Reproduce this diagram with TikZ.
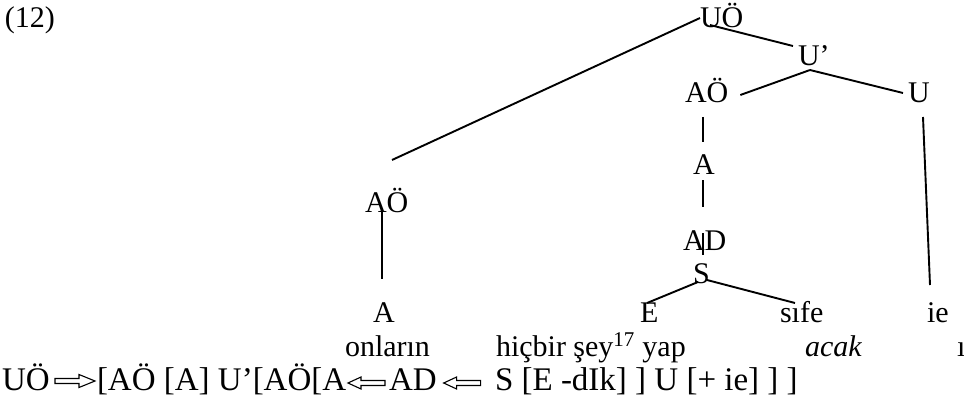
\documentclass[tikz,border=0pt]{standalone}
\usepackage{fontspec}
\setmainfont{Liberation Serif}
\usetikzlibrary{calc}
\begin{document}
\begin{tikzpicture}[x=1pt,y=-1pt,
  lbl/.style={inner sep=0pt, outer sep=0pt, font=\fontsize{30}{36}\selectfont, anchor=base west},
  blbl/.style={lbl, font=\fontsize{33}{40}\selectfont},
  edge/.style={line width=1.9pt},
  rarr/.pic={\draw[line width=1.1pt] (0,-2.5) -- (24,-2.5) -- (24,-6.5) -- (40,0) -- (24,6.5) -- (24,2.5) -- (0,2.5) -- cycle;},
  larr/.pic={\draw[line width=1.1pt] (0,0) -- (13,-6) -- (13,-2.5) -- (37,-2.5) -- (37,2.5) -- (13,2.5) -- (13,6) -- cycle;}]
\useasboundingbox (0,0) rectangle (964,409);
% tree labels
\node[lbl] (ex) at (5,28) {(12)};
\node[lbl] (UO) at (700,28) {UÖ};
\node[lbl] (Up) at (798,66) {U’};
\node[lbl] (AOr) at (685,103) {AÖ};
\node[lbl] (U) at (908,103) {U};
\node[lbl] (Am) at (693,175) {A};
\node[lbl] (AD) at (683,250) {AD};
\node[lbl] (S) at (693,283) {S};
\node[lbl] (AOl) at (365,212) {AÖ};
\node[lbl] (Al) at (373,322) {A};
\node[lbl] (E) at (640,322) {E};
\node[lbl] (sife) at (780,322) {sıfe};
\node[lbl] (ie) at (927,322) {ie};
% words
\node[lbl] (w1) at (345,356) {onların};
\node[lbl] (w2) at (496,356) {hiçbir şey\textsuperscript{17} yap};
\node[lbl] (w3) at (805,356) {\textit{acak}};
\node[lbl] (w4) at (957,356) {ı};
% edges
\coordinate (c1) at (392,160);
\draw[edge] ($(UO.base west)+(0,-10)$) -- (c1);
\draw[edge] ($(UO.base west)+(10,-3)$) -- ($(Up.base west)+(-5,-20)$);
\coordinate (Upb) at ($(Up.base west)+(12,4)$);
\draw[edge] (Upb) -- ($(AOr.base east)+(12,-8)$);
\draw[edge] (Upb) -- ($(U.base west)+(-5,-10)$);
\draw[edge] ($(AOr.base west)+(18,14)$) -- ($(Am.base west)+(10,-33)$);
\draw[edge] ($(Am.base west)+(10,5)$) -- ($(AD.base west)+(20,-43)$);
\draw[edge] ($(AD.base west)+(20,-17)$) -- ($(S.base west)+(10,-28)$);
\draw[edge] ($(S.base west)+(5,-1)$) -- ($(E.base west)+(7,-19)$);
\draw[edge] ($(S.base west)+(14,-3)$) -- ($(sife.base west)+(15,-19)$);
\draw[edge] ($(U.base west)+(15,14)$) -- ($(ie.base west)+(3,-37)$);
\draw[edge] ($(AOl.base west)+(17,-4)$) -- ($(Al.base west)+(9,-43)$);
% bottom formula
\node[blbl] (b1) at (2,390) {UÖ};
\node[blbl] (b2) at (97,390) {[AÖ [A] U’[AÖ[A};
\node[blbl] (b3) at (389,390) {AD};
\node[blbl] (b4) at (495,390) {S [E -dIk] ] U [+ ie] ] ]};
\pic at ($(b2.base west)+(-42,-9)$) {rarr};
\pic at ($(b3.base west)+(-41,-7)$) {larr};
\pic at ($(b3.base east)+(7,-7)$) {larr};
\end{tikzpicture}
\end{document}
